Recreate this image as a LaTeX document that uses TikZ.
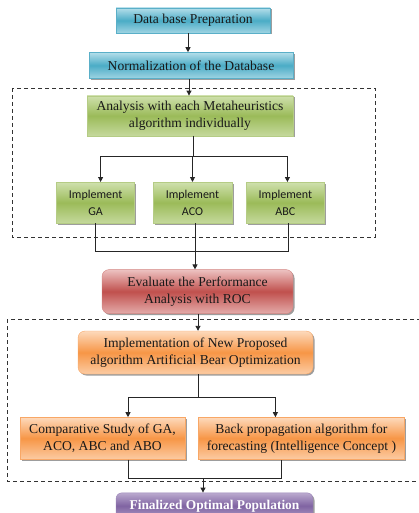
\documentclass[tikz,border=0pt]{standalone}
\usepackage{fontspec}
\setmainfont{Liberation Serif}
\newfontfamily\calfont{Carlito}
\usetikzlibrary{positioning, shadows, arrows.meta}

\definecolor{blueTop}{HTML}{B4DEEA}
\definecolor{blueMid}{HTML}{4BACC6}
\definecolor{blueEdge}{HTML}{5AAFC8}
\definecolor{greenTop}{HTML}{CFE0AD}
\definecolor{greenMid}{HTML}{9BBB59}
\definecolor{greenEdge}{HTML}{B5CC85}
\definecolor{redTop}{HTML}{EDC2C1}
\definecolor{redMid}{HTML}{C0504D}
\definecolor{redEdge}{HTML}{D38582}
\definecolor{orangeTop}{HTML}{FDD9BB}
\definecolor{orangeMid}{HTML}{F79646}
\definecolor{orangeEdge}{HTML}{F8A766}
\definecolor{purpleTop}{HTML}{BBAACF}
\definecolor{purpleMid}{HTML}{8064A2}
\definecolor{purpleEdge}{HTML}{9A83B8}

\begin{document}
\begin{tikzpicture}[x=1pt, y=1pt,
    box/.style={inner sep=0pt, align=center, text=black!90,
        font=\fontsize{13.6}{17}\selectfont,
        drop shadow={shadow xshift=1.5pt, shadow yshift=-1.5pt, fill=black!70, opacity=0.55}},
    bluebox/.style={box, draw=blueEdge, top color=blueTop, bottom color=blueTop!80!blueMid, middle color=blueMid},
    greenbox/.style={box, draw=greenEdge, top color=greenTop, bottom color=greenTop!80!greenMid, middle color=greenMid},
    redbox/.style={box, rounded corners=7pt, draw=redEdge, top color=redTop, bottom color=redTop!80!redMid, middle color=redMid},
    orangebox/.style={box, rounded corners=7pt, draw=orangeEdge, top color=orangeTop, bottom color=orangeTop!80!orangeMid, middle color=orangeMid},
    purplebox/.style={box, rounded corners=6pt, draw=purpleEdge, top color=purpleTop, bottom color=purpleTop!80!purpleMid, middle color=purpleMid, text=white, font=\fontsize{13.4}{17}\selectfont\bfseries},
    algbox/.style={greenbox, minimum width=78pt, minimum height=41pt, font=\calfont\fontsize{12}{16.5}\selectfont},
    line/.style={draw=black!85, line width=0.9pt},
    arrow/.style={line, -{Triangle[length=5pt, width=5pt]}},
    frame/.style={draw=black!80, line width=0.8pt, dash pattern=on 4pt off 3pt}]

    \useasboundingbox (0,0) rectangle (418,-513);

    % dashed frames
    \draw[frame] (12,-88) rectangle (375,-237);
    \draw[frame] (7,-319) rectangle (430,-481);

    % boxes
    \node[bluebox, minimum width=154pt, minimum height=25pt] (db) at (193,-20.5) {Data base Preparation};
    \node[bluebox, minimum width=204pt, minimum height=26pt, below=19pt of db, xshift=-2pt] (norm) {Normalization of the Database};
    \node[greenbox, minimum width=206pt, minimum height=40pt, below=17pt of norm, xshift=-1pt] (ana) {Analysis with each Metaheuristics\\algorithm individually};
    \node[algbox, minimum width=79pt, below=46pt of ana, xshift=2.5pt] (aco) {Implement\\ACO};
    \node[algbox, left=18pt of aco] (ga) {Implement\\GA};
    \node[algbox, right=14pt of aco] (abc) {Implement\\ABC};
    \node[redbox, minimum width=191pt, minimum height=44pt, below=46pt of aco, xshift=5pt] (eval) {Evaluate the Performance\\Analysis with ROC};
    \node[orangebox, minimum width=235pt, minimum height=43pt, below=17pt of eval, xshift=-2pt] (impl) {Implementation of New Proposed\\algorithm Artificial Bear Optimization};
    \node[orangebox, rounded corners=0pt, minimum width=165pt, minimum height=42pt, below=43pt of impl, xshift=-93pt] (comp) {Comparative Study of GA,\\ACO, ABC and ABO};
    \node[orangebox, rounded corners=0pt, minimum width=206pt, minimum height=42pt, right=13pt of comp] (back) {Back propagation algorithm for\\forecasting (Intelligence Concept )};
    \node[purplebox, minimum width=197pt, minimum height=26pt, below=33pt of comp, xshift=112pt] (fin) {Finalized Optimal Population};

    % connectors
    \draw[arrow] ([xshift=-5pt]db.south) -- ([xshift=-5pt]db.south |- norm.north);
    \draw[arrow] ([xshift=-2pt]norm.south) -- ([xshift=-2pt]norm.south |- ana.north);
    \draw[line] ([xshift=3pt]ana.south) -- ++(0,-20pt) coordinate (split1);
    \draw[line] ([xshift=5pt]ga.north |- split1) -- ([xshift=2pt]abc.north |- split1);
    \draw[arrow] ([xshift=5pt]ga.north |- split1) -- ([xshift=5pt]ga.north);
    \draw[arrow] (aco.north |- split1) -- (aco.north);
    \draw[arrow] ([xshift=2pt]abc.north |- split1) -- ([xshift=2pt]abc.north);

    \draw[line] ([xshift=2.5pt]aco.south) -- ++(0,-28pt) coordinate (join1);
    \draw[line] (ga.south) -- (ga.south |- join1) -- ([xshift=3pt]abc.south |- join1) -- ([xshift=3pt]abc.south);
    \draw[arrow] (join1) -- (join1 |- eval.north);

    \draw[arrow] ([xshift=0.5pt]eval.south) -- ([xshift=0.5pt]eval.south |- impl.north);
    \draw[line] ([xshift=2.5pt]impl.south) -- ++(0,-23pt) coordinate (split2);
    \draw[line] ([xshift=25.5pt]comp.north |- split2) -- ([xshift=-26pt]back.north |- split2);
    \draw[arrow] ([xshift=25.5pt]comp.north |- split2) -- ([xshift=25.5pt]comp.north);
    \draw[arrow] ([xshift=-26pt]back.north |- split2) -- ([xshift=-26pt]back.north);

    \draw[line] ([xshift=25.5pt]comp.south) -- ++(0,-19pt) coordinate (join2) -- ([xshift=-20pt]back.south |- join2) -- ([xshift=-20pt]back.south);
    \draw[arrow] ([xshift=-11.5pt]fin.north |- join2) -- ([xshift=-11.5pt]fin.north);
\end{tikzpicture}
\end{document}
